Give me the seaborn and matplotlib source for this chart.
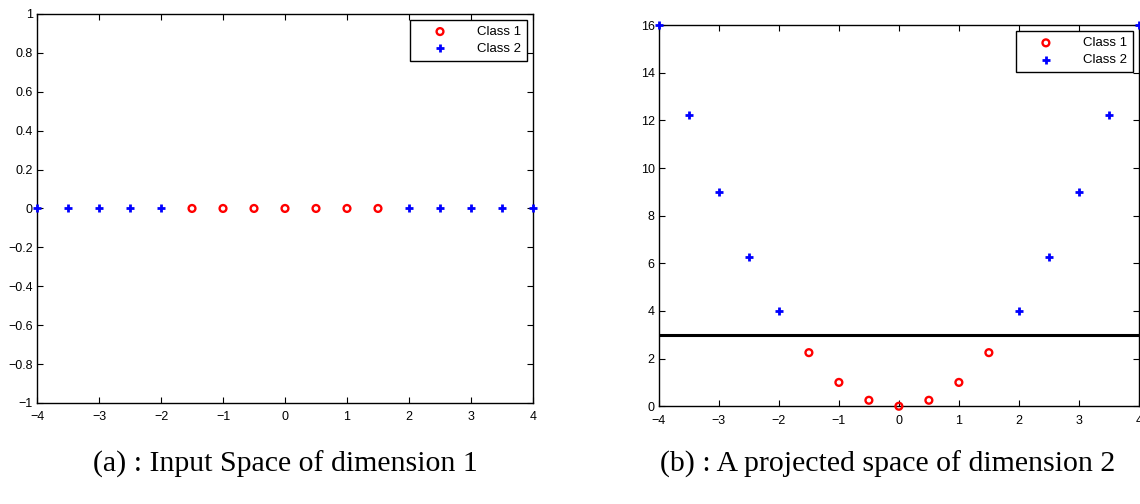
#import libraries
import numpy as np
import pandas as pd
import matplotlib
matplotlib.use('Agg')
import matplotlib.pyplot as plt
from matplotlib.ticker import FuncFormatter
import seaborn as sns

sns.set_style('ticks', {'xtick.direction': 'in', 'ytick.direction': 'in',
                        'text.color': 'black', 'xtick.color': 'black',
                        'ytick.color': 'black', 'axes.edgecolor': 'black'})
plt.rcParams['font.family'] = ['Liberation Sans', 'DejaVu Sans']

#data: points on the line and their projection x -> x^2
x_vals = [-4, -3.5, -3, -2.5, -2, -1.5, -1, -0.5, 0, 0.5, 1, 1.5, 2, 2.5, 3, 3.5, 4]
y_input = [0, 0, 0, 0, 0, 0, 0, 0, 0, 0, 0, 0, 0, 0, 0, 0, 0]
y_proj = [16, 12.25, 9, 6.25, 4, 2.25, 1, 0.25, 0, 0.25, 1, 2.25, 4, 6.25, 9, 12.25, 16]
labels = ['Class 2', 'Class 2', 'Class 2', 'Class 2', 'Class 2',
          'Class 1', 'Class 1', 'Class 1', 'Class 1', 'Class 1', 'Class 1', 'Class 1',
          'Class 2', 'Class 2', 'Class 2', 'Class 2', 'Class 2']
threshold = 3

df = pd.DataFrame({'x': x_vals, 'y_in': y_input, 'y_proj': y_proj, 'cls': labels})
c1 = df[df['cls'] == 'Class 1']
c2 = df[df['cls'] == 'Class 2']

def fmt(v, p):
    v = round(v, 2)
    if abs(v) < 1e-9:
        return '0'
    return ('%g' % v).replace('-', '\u2212')

fig = plt.figure(figsize=(11.4, 5.04), dpi=100)
ax1 = fig.add_axes([0.0325, 0.2004, 0.435, 0.772])
ax2 = fig.add_axes([0.578, 0.194, 0.421, 0.756])

def draw(ax, ycol):
    sns.scatterplot(data=c1, x='x', y=ycol, ax=ax, marker='o', s=24,
                    facecolors='none', edgecolor='red', linewidth=1.7,
                    label='Class 1', clip_on=False, zorder=3)
    sns.scatterplot(data=c2, x='x', y=ycol, ax=ax, marker='+', s=40,
                    color='blue', linewidth=2.0, label='Class 2',
                    clip_on=False, zorder=3)
    ax.set_xlim(-4, 4)
    ax.set_xticks(range(-4, 5))
    ax.set_xlabel('')
    ax.set_ylabel('')
    ax.tick_params(top=True, right=True, labelsize=9, length=4, width=0.8, pad=3)
    ax.tick_params(axis='x', pad=6)
    ax.xaxis.set_major_formatter(FuncFormatter(fmt))
    ax.yaxis.set_major_formatter(FuncFormatter(fmt))
    for sp in ax.spines.values():
        sp.set_linewidth(1.0)
        sp.set_color('black')
    leg = ax.legend(loc='upper right', fontsize=9.5, frameon=True, fancybox=False,
                    borderpad=0.45, handlelength=3.6, handletextpad=1.0,
                    borderaxespad=0.45, labelspacing=0.35)
    leg.get_frame().set_edgecolor('black')
    leg.get_frame().set_linewidth(1.0)
    leg.get_frame().set_alpha(1)

draw(ax1, 'y_in')
ax1.set_ylim(-1, 1)
ax1.set_yticks(np.arange(-1, 1.01, 0.2))

draw(ax2, 'y_proj')
ax2.axhline(threshold, color='black', linewidth=2.2, zorder=2)
ax2.set_ylim(0, 16)
ax2.set_yticks(range(0, 17, 2))

fig.text(0.25, 0.078, '(a) : Input Space of dimension 1', ha='center', va='center',
         family='Liberation Serif', fontsize=21.5, color='black')
fig.text(0.779, 0.078, '(b) : A projected space of dimension 2', ha='center', va='center',
         family='Liberation Serif', fontsize=21.5, color='black')

fig.savefig('out.png', dpi=100)
